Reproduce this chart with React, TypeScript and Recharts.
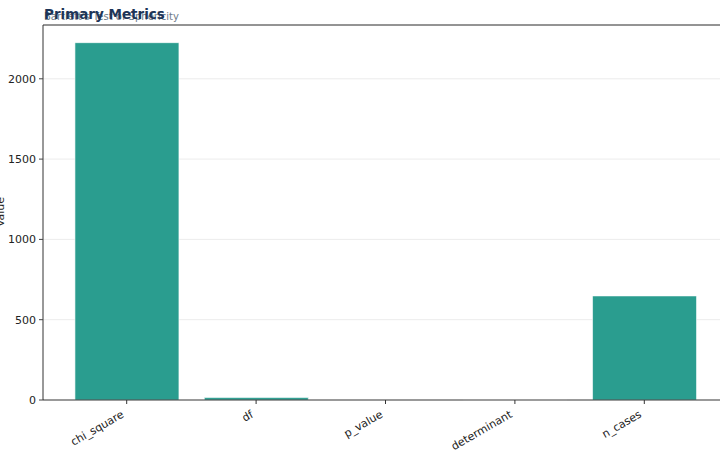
import React from 'react';
import { BarChart, Bar, XAxis, YAxis, CartesianGrid, ReferenceLine } from 'recharts';

const metricNames = ['chi_square', 'df', 'p_value', 'determinant', 'n_cases'];
const metricValues = [2225, 15, 0, 0.02, 648];
const yTicks = [0, 500, 1000, 1500, 2000];
const yMax = 2335;

const FONT = '"DejaVu Sans", sans-serif';
const BAR_COLOR = '#2a9d8f';

const data = metricNames.map((name, i) => ({ name, value: metricValues[i] }));

const XTick = (props: any) => {
  const { x, y, payload } = props;
  const tx = x - 2;
  const ty = y + 10.5;
  return (
    <text
      x={tx}
      y={ty}
      textAnchor="end"
      fontSize={11}
      fontFamily={FONT}
      fill="#222"
      transform={`rotate(-30, ${tx}, ${ty})`}
    >
      {payload.value}
    </text>
  );
};

const App: React.FC = () => {
  return (
    <div style={{ position: 'fixed', left: 0, top: 0, width: 720, height: 460, overflow: 'hidden', background: '#fff' }}>
      <BarChart
        width={740}
        height={460}
        data={data}
        margin={{ top: 25, right: 12, left: 0, bottom: 0 }}
        barCategoryGap="10%"
      >
        <CartesianGrid vertical={false} stroke="#ececec" />
        <Bar dataKey="value" fill={BAR_COLOR} stroke="#ffffff" strokeWidth={0.6} isAnimationActive={false} />
        <YAxis
          type="number"
          domain={[0, yMax]}
          ticks={yTicks}
          width={43}
          tickSize={4}
          tickMargin={3}
          axisLine={{ stroke: '#333', strokeWidth: 1 }}
          tickLine={{ stroke: '#444' }}
          tick={{ fontSize: 11, fontFamily: FONT, fill: '#222' }}
          interval={0}
        />
        <XAxis
          dataKey="name"
          height={60}
          padding={{ left: 19, right: 19 }}
          tickSize={4}
          tickMargin={2}
          interval={0}
          axisLine={{ stroke: 'rgba(0,0,0,0.5)', strokeWidth: 1.5 }}
          tickLine={{ stroke: '#333' }}
          tick={<XTick />}
        />
        <ReferenceLine y={yMax} stroke="#333" strokeWidth={1} />
      </BarChart>
      <svg width={720} height={460} style={{ position: 'absolute', left: 0, top: 0, pointerEvents: 'none' }}>
        <text x={44} y={19.5} fontSize={10} fontFamily={FONT} fill="#6c7a89">
          Bartlett's Test of Sphericity
        </text>
        <text x={44} y={19} fontSize={13.5} fontWeight="bold" fontFamily={FONT} fill="#1d3557">
          Primary Metrics
        </text>
        <text
          x={3.5}
          y={212}
          fontSize={11}
          fontFamily={FONT}
          fill="#222"
          textAnchor="middle"
          transform="rotate(-90, 3.5, 212)"
        >
          Value
        </text>
      </svg>
    </div>
  );
};

export default App;
